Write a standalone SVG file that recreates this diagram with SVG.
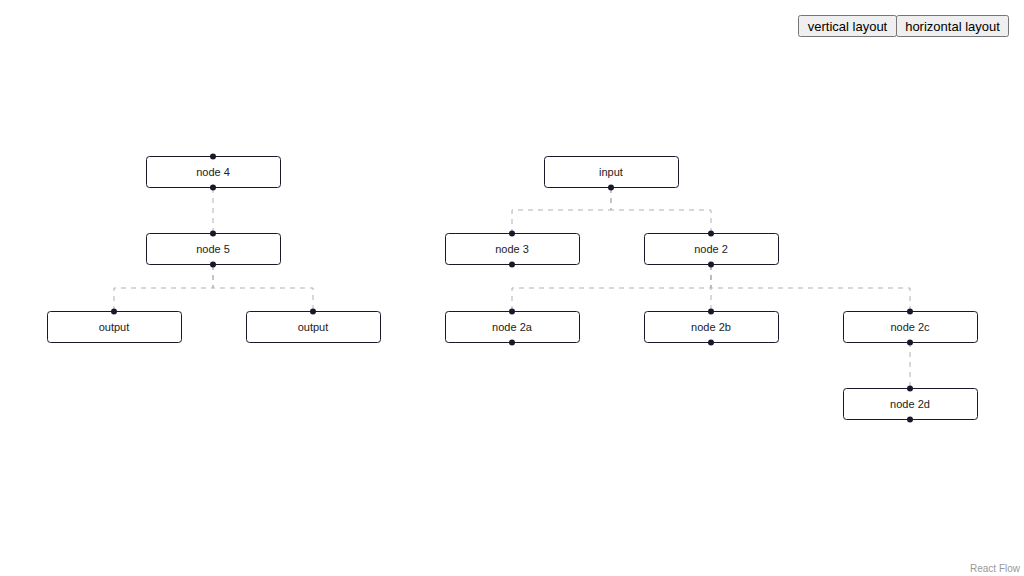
<svg xmlns="http://www.w3.org/2000/svg" width="1024" height="576" viewBox="0 0 1024 576">
<style>
.node rect{fill:#fff;stroke:#1a192b;stroke-width:1}
.node text,.btn text{font-family:"Liberation Sans",Arial,sans-serif;font-size:11px;fill:#222;text-anchor:middle}
.h{fill:#1a192b}
.edges path{fill:none;stroke:#b1b1b7;stroke-width:1;stroke-dasharray:5 5}
.btn rect{fill:#efefef;stroke:#767676;stroke-width:1}
.btn text{font-size:13px;fill:#000}
</style>
<rect width="1024" height="576" fill="#fff"/>
<g id="edges" class="edges">
<path d="M213 188V233"/>
<path d="M213 265V288H114V311"/>
<path d="M213 265V288H313V311"/>
<path d="M611 188V210H512V233"/>
<path d="M611 188V210H711V233"/>
<path d="M711 265V288H512V311"/>
<path d="M711 265V311"/>
<path d="M711 265V288H910V311"/>
<path d="M910 342V388"/>
</g>
<g id="node4" class="node"><rect x="146.5" y="156.5" width="134" height="31" rx="3"/><text x="213" y="176">node 4</text><circle class="h" cx="213" cy="156.5" r="3"/><circle class="h" cx="213" cy="187.5" r="3"/></g>
<g id="node5" class="node"><rect x="146.5" y="233.5" width="134" height="31" rx="3"/><text x="213" y="253">node 5</text><circle class="h" cx="213" cy="233.5" r="3"/><circle class="h" cx="213" cy="264.5" r="3"/></g>
<g id="output1" class="node"><rect x="47.5" y="311.5" width="134" height="31" rx="3"/><text x="114" y="331">output</text><circle class="h" cx="114" cy="311.5" r="3"/></g>
<g id="output2" class="node"><rect x="246.5" y="311.5" width="134" height="31" rx="3"/><text x="313" y="331">output</text><circle class="h" cx="313" cy="311.5" r="3"/></g>
<g id="input" class="node"><rect x="544.5" y="156.5" width="134" height="31" rx="3"/><text x="611" y="176">input</text><circle class="h" cx="611" cy="187.5" r="3"/></g>
<g id="node3" class="node"><rect x="445.5" y="233.5" width="134" height="31" rx="3"/><text x="512" y="253">node 3</text><circle class="h" cx="512" cy="233.5" r="3"/><circle class="h" cx="512" cy="264.5" r="3"/></g>
<g id="node2" class="node"><rect x="644.5" y="233.5" width="134" height="31" rx="3"/><text x="711" y="253">node 2</text><circle class="h" cx="711" cy="233.5" r="3"/><circle class="h" cx="711" cy="264.5" r="3"/></g>
<g id="node2a" class="node"><rect x="445.5" y="311.5" width="134" height="31" rx="3"/><text x="512" y="331">node 2a</text><circle class="h" cx="512" cy="311.5" r="3"/><circle class="h" cx="512" cy="342.5" r="3"/></g>
<g id="node2b" class="node"><rect x="644.5" y="311.5" width="134" height="31" rx="3"/><text x="711" y="331">node 2b</text><circle class="h" cx="711" cy="311.5" r="3"/><circle class="h" cx="711" cy="342.5" r="3"/></g>
<g id="node2c" class="node"><rect x="843.5" y="311.5" width="134" height="31" rx="3"/><text x="910" y="331">node 2c</text><circle class="h" cx="910" cy="311.5" r="3"/><circle class="h" cx="910" cy="342.5" r="3"/></g>
<g id="node2d" class="node"><rect x="843.5" y="388.5" width="134" height="31" rx="3"/><text x="910" y="408">node 2d</text><circle class="h" cx="910" cy="388.5" r="3"/><circle class="h" cx="910" cy="419.5" r="3"/></g>
<g id="btn-vertical" class="btn"><rect x="798.5" y="15.5" width="98" height="21" rx="2"/><text x="847.5" y="31">vertical layout</text></g>
<g id="btn-horizontal" class="btn"><rect x="896.5" y="15.5" width="112" height="21" rx="2"/><text x="952.5" y="31">horizontal layout</text></g>
<text x="1020" y="572" font-family="Liberation Sans,Arial,sans-serif" font-size="10" fill="#999" text-anchor="end">React Flow</text>
</svg>
